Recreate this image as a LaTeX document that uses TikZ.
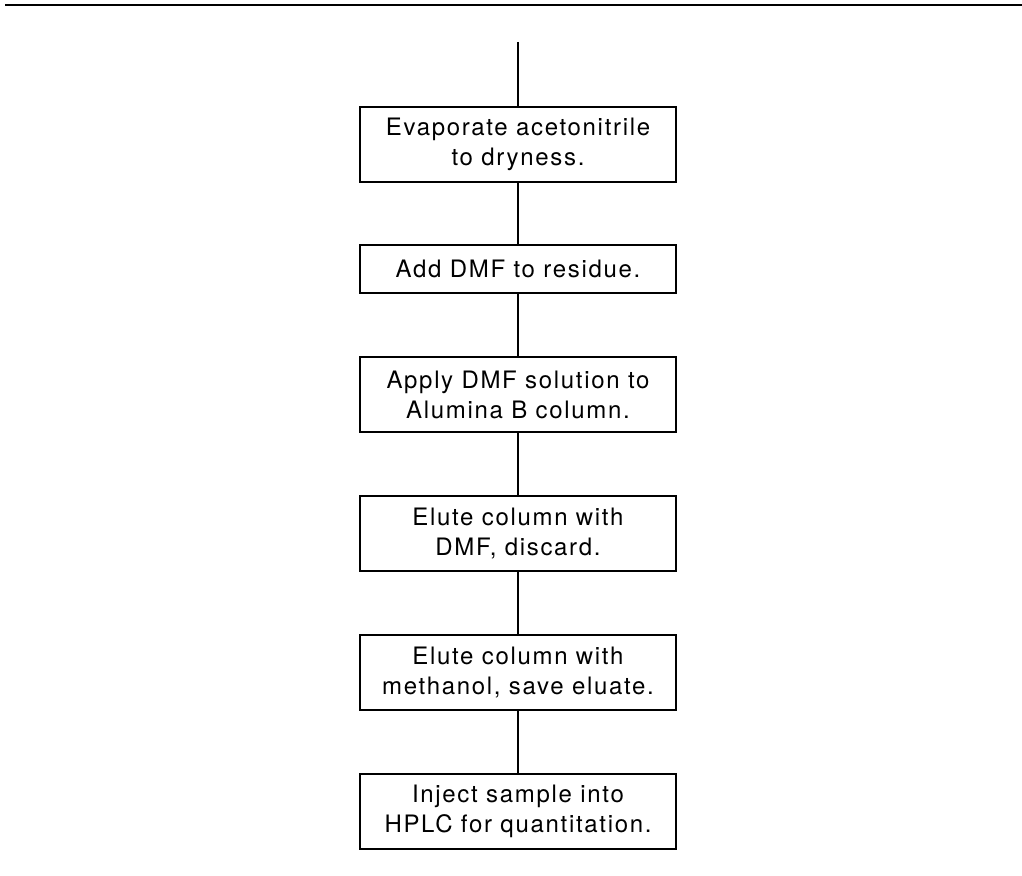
\documentclass[tikz,border=0pt]{standalone}
\usepackage{fontspec}
\setmainfont[LetterSpace=7]{TeX Gyre Heros}
\usetikzlibrary{shapes,arrows}

\begin{document}
\begin{tikzpicture}[x=0.5pt, y=-0.5pt]
\useasboundingbox (0,0) rectangle (1022,876);
\tikzstyle{every node} = [draw, line width=1pt, shape=rectangle, minimum width=158pt, align=center, inner sep=2pt, font=\fontsize{12}{15}\selectfont]
\tikzstyle{two} = [minimum height=37.5pt]
\tikzstyle{one} = [minimum height=24pt]

\draw [line width=1.2pt] (5,5) -- (1022,5);
\coordinate (s) at (518,42);

\node [two] (a) at (518,144.5) {Evaporate acetonitrile\\to dryness.};
\node [one] (b) at (518,269) {Add DMF to residue.};
\node [two] (c) at (518,394.5) {Apply DMF solution to\\Alumina B column.};
\node [two] (d) at (518,533.5) {Elute column with\\DMF, discard.};
\node [two] (e) at (518,672.5) {Elute column with\\methanol, save eluate.};
\node [two] (f) at (518,811.5) {Inject sample into\\HPLC for quantitation.};

\draw [-, line width=1pt] (s) to (a);
\draw [-, line width=1pt] (a) to (b);
\draw [-, line width=1pt] (b) to (c);
\draw [-, line width=1pt] (c) to (d);
\draw [-, line width=1pt] (d) to (e);
\draw [-, line width=1pt] (e) to (f);
\end{tikzpicture}
\end{document}
